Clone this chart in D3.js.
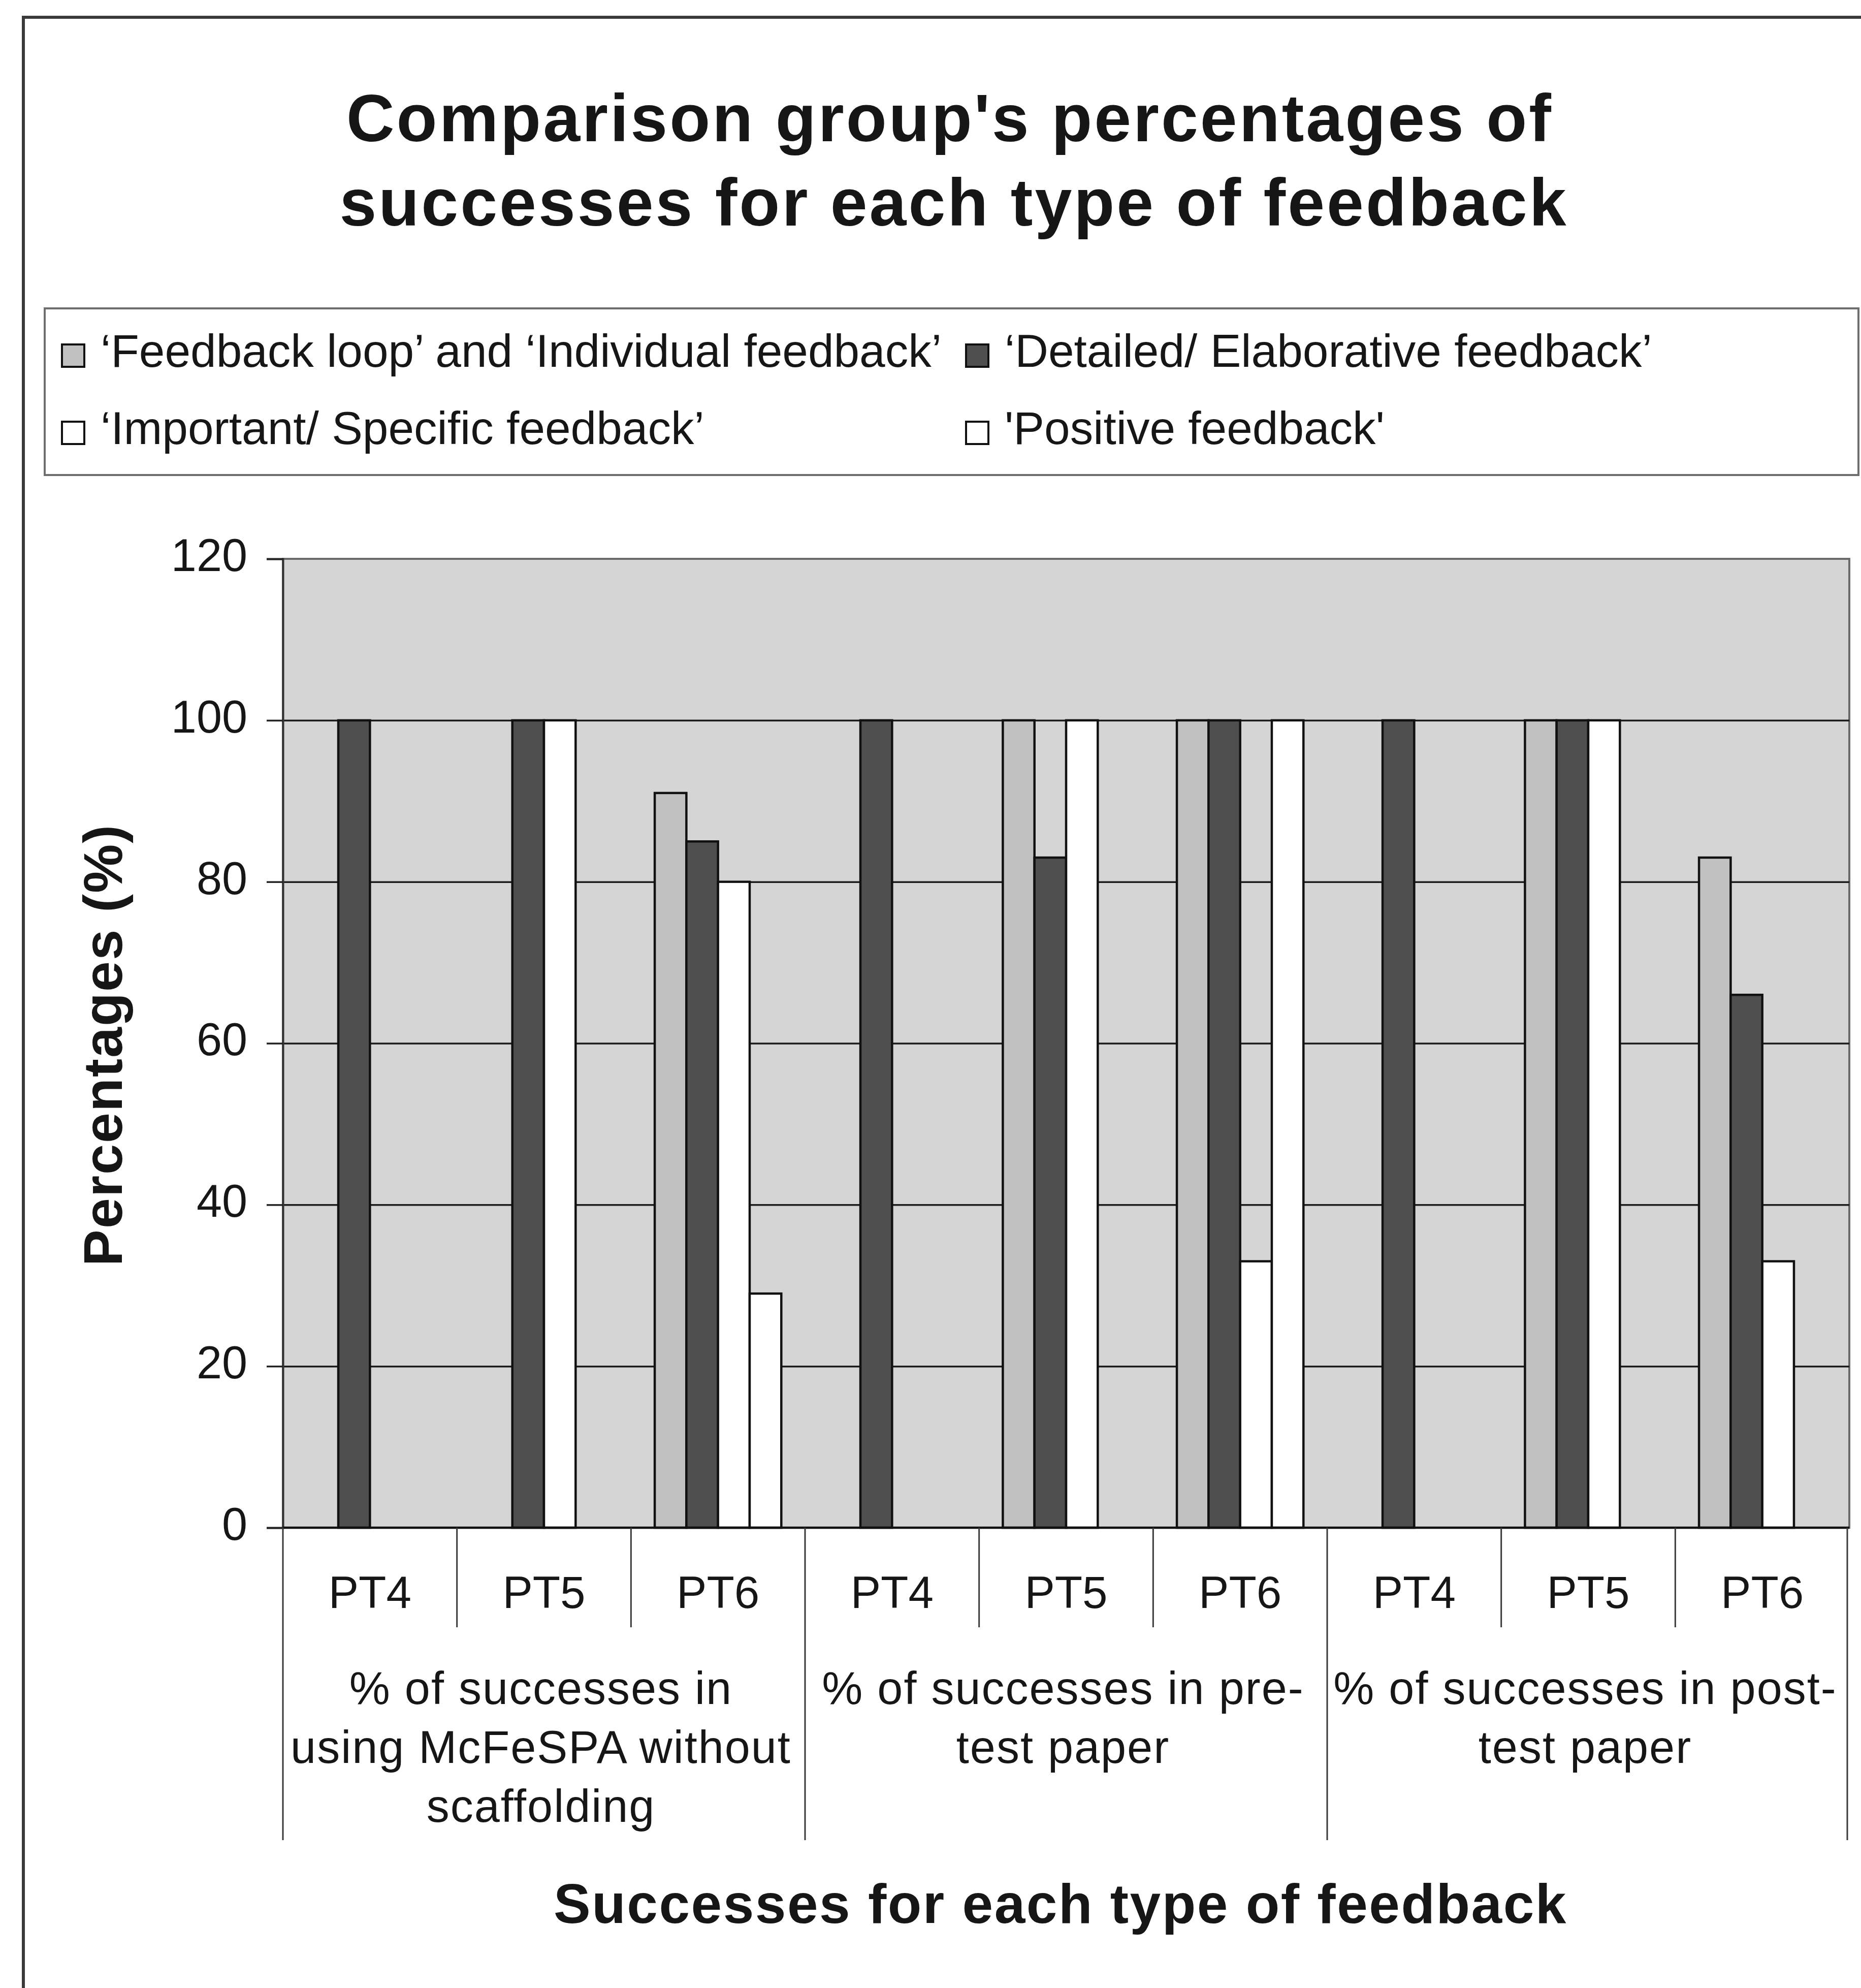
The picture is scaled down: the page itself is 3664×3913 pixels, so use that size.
<!DOCTYPE html>
<html>
<head>
<meta charset="utf-8">
<script src="https://cdn.jsdelivr.net/npm/d3@7"></script>
<style>
  html, body { margin: 0; padding: 0; background: #fff; }
  svg { display: block; }
  text { font-family: "Liberation Sans", Arial, sans-serif; fill: #161616; }
</style>
</head>
<body>
<svg id="chart" width="3664" height="3913"></svg>
<script>
// ---- data ----
const groupLabels = [
  ["% of successes in", "using McFeSPA without", "scaffolding"],
  ["% of successes in pre-", "test paper"],
  ["% of successes in post-", "test paper"]
];
const tests = ["PT4", "PT5", "PT6"];
const seriesNames = [
  "\u2018Feedback loop\u2019 and \u2018Individual feedback\u2019",
  "\u2018Detailed/ Elaborative feedback\u2019",
  "\u2018Important/ Specific feedback\u2019",
  "'Positive feedback'"
];
// one value per category: 3 groups x (PT4, PT5, PT6)
const feedbackLoop = [0, 0, 91, 0, 100, 100, 0, 100, 83];
const detailed     = [100, 100, 85, 100, 83, 100, 100, 100, 66];
const important    = [0, 100, 80, 0, 100, 33, 0, 100, 33];
const positive     = [0, 0, 29, 0, 0, 100, 0, 0, 0];
const yTicks = [0, 20, 40, 60, 80, 100, 120];

const seriesValues = [feedbackLoop, detailed, important, positive];
const seriesFill = ["#c1c1c1", "#4f4f4f", "#ffffff", "#ffffff"];

// ---- layout ----
const svg = d3.select("#chart");
const plot = { left: 557, right: 3641, top: 1100, bottom: 3007 };

svg.append("rect").attr("width", 3664).attr("height", 3913).attr("fill", "#fff");

// outer chart frame (runs off the right and bottom edges)
svg.append("path")
  .attr("d", "M46,3913 V34 H3664")
  .attr("fill", "none").attr("stroke", "#3a3a3a").attr("stroke-width", 6);

// title
const title = svg.append("text")
  .attr("text-anchor", "middle")
  .attr("font-weight", "bold").attr("font-size", 131)
  .attr("letter-spacing", 4);
title.append("tspan").attr("x", 1870).attr("y", 278).text("Comparison group's percentages of");
title.append("tspan").attr("x", 1878).attr("y", 444).text("successes for each type of feedback");

// legend
svg.append("rect")
  .attr("x", 88).attr("y", 607).attr("width", 3571).attr("height", 328)
  .attr("fill", "none").attr("stroke", "#6e6e6e").attr("stroke-width", 4);

const legendPos = [
  { x: 122, y: 722 }, { x: 1902, y: 722 },
  { x: 122, y: 874 }, { x: 1902, y: 874 }
];
const legend = svg.append("g").selectAll("g")
  .data(seriesNames.map((name, i) => ({ name, i })))
  .join("g")
  .attr("transform", d => `translate(${legendPos[d.i].x},${legendPos[d.i].y})`);
legend.append("rect")
  .attr("x", 0).attr("y", -44).attr("width", 44).attr("height", 44)
  .attr("fill", d => seriesFill[d.i]).attr("stroke", "#111").attr("stroke-width", 4);
legend.append("text")
  .attr("x", 76).attr("y", 0)
  .attr("font-size", 91)
  .text(d => d.name);

// scales
const nCat = groupLabels.length * tests.length;
const x0 = d3.scaleBand().domain(d3.range(nCat)).range([plot.left, plot.right]).padding(0);
const cw = x0.bandwidth();
const bw = cw / 5.5; // gap width 150% of a bar
const x1 = d3.scaleBand().domain(d3.range(seriesNames.length))
  .range([bw * 0.75, cw - bw * 0.75]).padding(0);
const y = d3.scaleLinear().domain([0, 120]).range([plot.bottom, plot.top]);

// plot area background
svg.append("rect")
  .attr("x", plot.left).attr("y", plot.top)
  .attr("width", plot.right - plot.left).attr("height", plot.bottom - plot.top)
  .attr("fill", "#d5d5d5").attr("stroke", "#6a6a6a").attr("stroke-width", 4);

// horizontal gridlines
svg.append("g")
  .attr("transform", `translate(${plot.left},0)`)
  .call(d3.axisLeft(y).tickValues(yTicks.filter(v => v > 0 && v < 120))
    .tickSize(-(plot.right - plot.left)).tickFormat(""))
  .call(g => g.select(".domain").remove())
  .call(g => g.selectAll("line").attr("stroke", "#1c1c1c").attr("stroke-width", 3.5));

// bars
const rows = [];
seriesValues.forEach((vals, s) => vals.forEach((v, c) => rows.push({ s, c, v })));
svg.append("g").selectAll("rect")
  .data(rows.filter(d => d.v > 0))
  .join("rect")
  .attr("x", d => x0(d.c) + x1(d.s))
  .attr("y", d => y(d.v))
  .attr("width", x1.bandwidth())
  .attr("height", d => y(0) - y(d.v))
  .attr("fill", d => seriesFill[d.s])
  .attr("stroke", "#111").attr("stroke-width", 4.5);

// y axis with outside ticks and labels
svg.append("g")
  .attr("transform", `translate(${plot.left},0)`)
  .call(d3.axisLeft(y).tickValues(yTicks).tickSize(32).tickPadding(38))
  .call(g => g.select(".domain").attr("stroke", "#333").attr("stroke-width", 4))
  .call(g => g.selectAll(".tick line").attr("stroke", "#222").attr("stroke-width", 3.5))
  .call(g => g.selectAll(".tick text")
    .attr("font-size", 90).attr("fill", "#161616")
    .attr("font-family", "Liberation Sans, Arial, sans-serif")
    .attr("dy", "0.26em"));

// category axis baseline
svg.append("line")
  .attr("x1", plot.left).attr("x2", plot.right)
  .attr("y1", y(0)).attr("y2", y(0))
  .attr("stroke", "#111").attr("stroke-width", 4.5);

// category separators: short between tests, long between groups
const bounds = d3.range(nCat + 1).map(i => ({
  i, x: i < nCat ? x0(i) : plot.right - 4
}));
svg.append("g").selectAll("line")
  .data(bounds)
  .join("line")
  .attr("x1", d => d.x).attr("x2", d => d.x)
  .attr("y1", y(0))
  .attr("y2", d => d.i % tests.length === 0 ? 3622 : 3203)
  .attr("stroke", "#3a3a3a").attr("stroke-width", 3);

// test labels
svg.append("g").selectAll("text")
  .data(d3.range(nCat))
  .join("text")
  .attr("x", c => x0(c) + cw / 2)
  .attr("y", 3165)
  .attr("text-anchor", "middle")
  .attr("font-size", 89)
  .text(c => tests[c % tests.length]);

// group labels
const gl = svg.append("g").selectAll("text")
  .data(groupLabels.map((lines, g) => ({ lines, g })))
  .join("text")
  .attr("text-anchor", "middle")
  .attr("font-size", 90)
  .attr("letter-spacing", 2);
gl.selectAll("tspan")
  .data(d => d.lines.map((t, k) => ({ t, k, g: d.g })))
  .join("tspan")
  .attr("x", d => x0(d.g * tests.length) + cw * tests.length / 2 - 6)
  .attr("y", d => 3354 + d.k * 116)
  .text(d => d.t);

// axis titles
svg.append("text")
  .attr("x", 2088).attr("y", 3785)
  .attr("text-anchor", "middle")
  .attr("font-weight", "bold").attr("font-size", 109)
  .attr("letter-spacing", 2.5)
  .text("Successes for each type of feedback");

svg.append("text")
  .attr("transform", "translate(240,2057) rotate(-90)")
  .attr("text-anchor", "middle")
  .attr("font-weight", "bold").attr("font-size", 108)
  .attr("letter-spacing", 2)
  .text("Percentages (%)");
</script>
</body>
</html>
